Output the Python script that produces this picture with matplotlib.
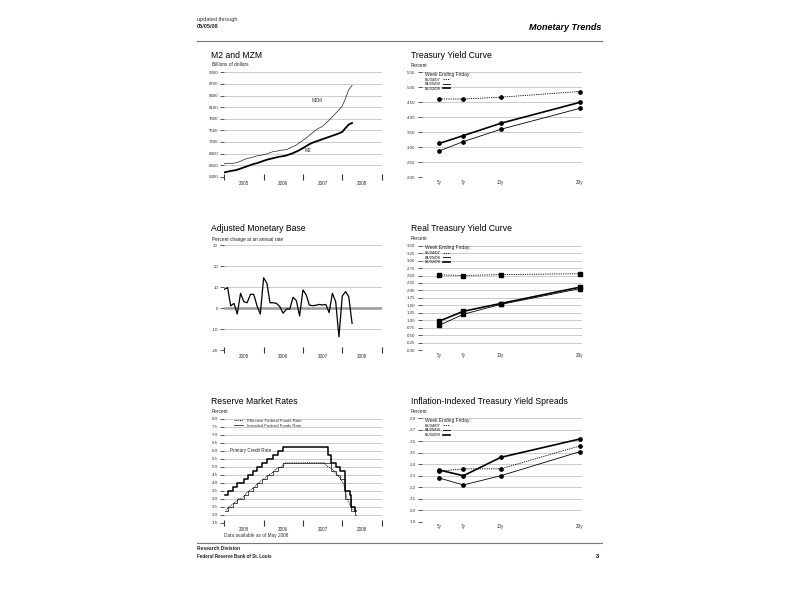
#!/usr/bin/python

"""
Monetary Trends page 3: money stock, monetary base, reserve rates and yield curves.
"""

# build-in modules
import datetime as dt

# third-party modules
import matplotlib
matplotlib.use('Agg')
import matplotlib.pyplot as plt
import matplotlib.dates as mdates
from matplotlib.lines import Line2D
import pandas as pd

# constants
plt.rcParams['font.family'] = ['Liberation Sans', 'DejaVu Sans']

MONTHS = pd.date_range('2005-01-01', periods=40, freq='MS')  # Jan 2005 .. Apr 2008
YEAR_LABELS = ['2005', '2006', '2007', '2008']

# M2 and MZM, billions of dollars
MZM = [6640, 6650, 6645, 6650, 6670, 6700, 6740, 6770, 6790, 6810,
       6840, 6850, 6870, 6890, 6920, 6950, 6960, 6980, 6990, 7000,
       7040, 7080, 7120, 7180, 7240, 7300, 7370, 7440, 7510, 7560,
       7600, 7680, 7760, 7850, 7940, 8030, 8130, 8330, 8550, 8660]
M2 = [6410, 6430, 6450, 6460, 6480, 6510, 6540, 6570, 6600, 6630,
      6650, 6680, 6710, 6740, 6760, 6780, 6800, 6820, 6830, 6850,
      6880, 6910, 6950, 6990, 7040, 7090, 7140, 7180, 7210, 7240,
      7270, 7300, 7330, 7360, 7390, 7420, 7460, 7560, 7650, 7690]

# adjusted monetary base, percent change at an annual rate
BASE = [8.9, 9.7, 1.0, 2.2, -2.9, 7.0, 3.0, 2.5, 6.5, 6.5,
        1.0, -2.9, 14.4, 11.7, 2.5, 2.5, 2.2, 0.6, -2.5, -0.5,
        -0.5, 5.1, 3.5, -3.8, 8.6, 6.2, 1.4, 1.1, 1.3, 1.7,
        1.4, 1.7, -2.2, 7.0, 3.0, -13.7, 5.7, 7.8, 5.4, -7.3]

# reserve market rates
PCR_DATES = ['2005-01-10', '2005-02-02', '2005-03-22', '2005-05-03', '2005-06-30',
             '2005-08-09', '2005-09-20', '2005-11-01', '2005-12-13', '2006-01-31',
             '2006-03-28', '2006-05-10', '2006-06-29', '2007-08-17', '2007-09-18',
             '2007-10-31', '2007-12-11', '2008-01-22', '2008-01-30', '2008-03-16',
             '2008-03-18', '2008-04-30', '2008-05-05']
PCR = [3.25, 3.50, 3.75, 4.00, 4.25, 4.50, 4.75, 5.00, 5.25, 5.50, 5.75, 6.00,
       6.25, 5.75, 5.25, 5.00, 4.75, 4.00, 3.50, 3.25, 2.50, 2.25, 2.25]
FFT_DATES = ['2005-01-10', '2005-02-02', '2005-03-22', '2005-05-03', '2005-06-30',
             '2005-08-09', '2005-09-20', '2005-11-01', '2005-12-13', '2006-01-31',
             '2006-03-28', '2006-05-10', '2006-06-29', '2007-09-18', '2007-10-31',
             '2007-12-11', '2008-01-22', '2008-01-30', '2008-03-18', '2008-04-30',
             '2008-05-05']
FFT = [2.25, 2.50, 2.75, 3.00, 3.25, 3.50, 3.75, 4.00, 4.25, 4.50, 4.75, 5.00,
       5.25, 4.75, 4.50, 4.25, 3.50, 3.00, 2.25, 2.00, 2.00]
EFF = [2.28, 2.50, 2.63, 2.79, 3.00, 3.04, 3.26, 3.50, 3.62, 3.78, 4.00, 4.16,
       4.29, 4.49, 4.59, 4.79, 4.94, 4.99, 5.24, 5.25, 5.25, 5.25, 5.25, 5.24,
       5.25, 5.26, 5.26, 5.25, 5.25, 5.25, 5.26, 5.02, 4.94, 4.76, 4.49, 4.24,
       3.94, 2.98, 2.61, 2.28]

# yield curves
MATURITIES = ['5y', '7y', '10y', '20y']
WEEKS = ['05/04/07', '04/25/08', '05/02/08']
NOMINAL = [[4.61, 4.61, 4.67, 4.86],
           [2.88, 3.19, 3.60, 4.30],
           [3.13, 3.39, 3.80, 4.50]]
REAL = [[2.52, 2.50, 2.53, 2.56],
        [0.83, 1.20, 1.53, 2.06],
        [0.97, 1.30, 1.56, 2.11]]
SPREAD = [[2.34, 2.36, 2.36, 2.56],
          [2.28, 2.22, 2.30, 2.51],
          [2.35, 2.30, 2.46, 2.62]]

# layout / style
MAT_POS = [0.11, 0.26, 0.493, 0.9875]
WEEK_STYLE = [dict(ls=(0, (1.5, 1.2)), lw=0.6), dict(ls='-', lw=0.6), dict(ls='-', lw=1.2)]
GRID = '#c4c4c4'
TEXT = '#333333'
W, H = 800.0, 600.0


def box(left, top, right, bottom):
    "Pixel box to figure fraction."
    return [left / W, 1 - bottom / H, (right - left) / W, (bottom - top) / H]


def ftext(fig, x, y, s, **kw):
    fig.text(x / W, 1 - y / H, s, va='center', **kw)


def style_axes(ax, yticks, fmt):
    for s in ax.spines.values():
        s.set_visible(False)
    ax.set_ylim(yticks[0], yticks[-1])
    ax.set_yticks(yticks)
    ax.set_yticklabels([fmt.format(v) for v in yticks])
    ax.yaxis.grid(True, color=GRID, linewidth=0.6)
    ax.set_axisbelow(True)
    ax.tick_params(axis='y', length=3, width=0.7, color='#555555', labelsize=3.2,
                   labelcolor=TEXT, pad=1.5)


def time_axis(ax):
    ax.set_xlim(dt.date(2005, 1, 1), dt.date(2009, 1, 1))
    ax.xaxis.set_major_locator(mdates.YearLocator())
    ax.xaxis.set_major_formatter(plt.NullFormatter())
    mids = [dt.date(int(y), 7, 1) for y in YEAR_LABELS]
    ax.set_xticks(mids, minor=True)
    ax.set_xticklabels(YEAR_LABELS, minor=True)
    ax.tick_params(axis='x', which='major', direction='inout', length=5, width=0.8, color='#333333')
    ax.tick_params(axis='x', which='minor', length=0, labelsize=3.3, labelcolor=TEXT, pad=3)


def curve_axis(ax, series, yticks, fmt, marker):
    style_axes(ax, yticks, fmt)
    ax.set_xlim(0, 1)
    ax.set_xticks(MAT_POS)
    ax.set_xticklabels(MATURITIES)
    ax.tick_params(axis='x', length=0, labelsize=3.3, labelcolor=TEXT, pad=2)
    handles = []
    for vals, st in zip(series, WEEK_STYLE):
        ax.plot(MAT_POS, vals, color='black', marker=marker, ms=2.4, clip_on=False, **st)
        handles.append(Line2D([], [], color='black', **st))
    leg = ax.legend(handles, WEEKS, title='Week Ending Friday:', loc='upper left',
                    bbox_to_anchor=(0.0, 1.03), markerfirst=False, frameon=False,
                    fontsize=3.0, title_fontsize=3.5, handlelength=1.8, labelspacing=0.15,
                    borderpad=0.2, handletextpad=0.6, alignment='left')
    leg.get_title().set_color('#222222')


def main():
    fig = plt.figure(figsize=(8, 6), dpi=100)
    fig.patch.set_facecolor('white')

    # header and footer
    ftext(fig, 197, 20, 'updated through', fontsize=4.0, color='#333333')
    ftext(fig, 197, 27, '05/05/08', fontsize=4.0, fontweight='bold', color='#222222')
    ftext(fig, 601, 28, 'Monetary Trends', fontsize=6.5, fontweight='bold',
          fontstyle='italic', ha='right')
    fig.add_artist(Line2D([197 / W, 602 / W], [1 - 41 / H] * 2, color='#777777', lw=0.8))
    fig.add_artist(Line2D([197 / W, 602 / W], [1 - 543 / H] * 2, color='#777777', lw=0.8))
    ftext(fig, 197, 549, 'Research Division', fontsize=3.5, fontweight='bold', color='#222222')
    ftext(fig, 197, 556.5, 'Federal Reserve Bank of St. Louis', fontsize=3.3,
          fontweight='bold', color='#222222')
    ftext(fig, 599, 556.5, '3', fontsize=4.0, fontweight='bold', ha='right')

    # M2 and MZM
    ax = fig.add_axes(box(224.3, 72.3, 381.7, 176.7))
    style_axes(ax, list(range(6300, 9001, 300)), '{:d}')
    time_axis(ax)
    ax.plot(MONTHS, MZM, color='#222222', lw=0.5)
    ax.plot(MONTHS, M2, color='black', lw=1.3)
    ax.text(dt.date(2007, 5, 15), 8280, 'MZM', fontsize=3.4, color=TEXT, ha='center', va='center')
    ax.text(dt.date(2007, 2, 15), 6990, 'M2', fontsize=3.4, color=TEXT, ha='center', va='center')
    ftext(fig, 211, 55.7, 'M2 and MZM', fontsize=6.2)
    ftext(fig, 212, 65, 'Billions of dollars', fontsize=3.4, color='#222222')

    # Adjusted Monetary Base
    ax = fig.add_axes(box(224.3, 245, 381.7, 350))
    style_axes(ax, [-20, -10, 0, 10, 20, 30], '{:d}')
    time_axis(ax)
    ax.axhline(0, color='#999999', lw=1.8, zorder=1)
    ax.plot(MONTHS, BASE, color='black', lw=0.9)
    ftext(fig, 211, 229, 'Adjusted Monetary Base', fontsize=6.2)
    ftext(fig, 212, 239, 'Percent change at an annual rate', fontsize=3.4, color='#222222')

    # Reserve Market Rates
    ax = fig.add_axes(box(224.3, 419, 381.7, 522.7))
    style_axes(ax, [1.5 + 0.5 * i for i in range(14)], '{:.1f}')
    time_axis(ax)
    eff_dates = [d + pd.Timedelta(days=14) for d in MONTHS]
    ax.step(pd.to_datetime(FFT_DATES), FFT, where='post', color='#333333', lw=0.6)
    ax.plot(eff_dates, EFF, color='black', lw=0.6, ls=(0, (1.2, 1.0)))
    ax.step(pd.to_datetime(PCR_DATES), PCR, where='post', color='black', lw=1.1)
    ax.text(dt.date(2005, 2, 20), 6.0, 'Primary Credit Rate', fontsize=3.3, va='center',
            color='#222222', bbox=dict(facecolor='white', edgecolor='none', pad=0.6))
    handles = [Line2D([], [], color='black', lw=0.6, ls=(0, (1.2, 1.0))),
               Line2D([], [], color='#333333', lw=0.6)]
    ax.legend(handles, ['Effective Federal Funds Rate', 'Intended Federal Funds Rate'],
              loc='upper left', bbox_to_anchor=(0.04, 1.03), frameon=False, fontsize=3.1,
              handlelength=2.2, labelspacing=0.2, borderpad=0.2, handletextpad=0.8,
              labelcolor=TEXT)
    ftext(fig, 211, 401, 'Reserve Market Rates', fontsize=6.2)
    ftext(fig, 212, 411.7, 'Percent', fontsize=3.4, color='#222222')
    ftext(fig, 224, 536, 'Data available as of May 2008', fontsize=3.4, color=TEXT)

    # yield curves
    ax = fig.add_axes(box(421.7, 72.3, 582, 177.3))
    curve_axis(ax, NOMINAL, [2.0 + 0.5 * i for i in range(8)], '{:.2f}', 'o')
    ftext(fig, 411, 55.7, 'Treasury Yield Curve', fontsize=6.2)
    ftext(fig, 411, 65.7, 'Percent', fontsize=3.4, color='#222222')

    ax = fig.add_axes(box(421.7, 245.7, 582, 350))
    curve_axis(ax, REAL, [0.25 * i for i in range(15)], '{:.2f}', 's')
    ftext(fig, 411, 229, 'Real Treasury Yield Curve', fontsize=6.2)
    ftext(fig, 411, 239, 'Percent', fontsize=3.4, color='#222222')

    ax = fig.add_axes(box(421.7, 418.3, 582, 521.7))
    curve_axis(ax, SPREAD, [1.9 + 0.1 * i for i in range(10)], '{:.1f}', 'o')
    ftext(fig, 411, 401.7, 'Inflation-Indexed Treasury Yield Spreads', fontsize=6.2)
    ftext(fig, 411, 411.7, 'Percent', fontsize=3.4, color='#222222')

    plt.savefig('out.png', dpi=100, facecolor='white')


if __name__ == "__main__":
    main()
